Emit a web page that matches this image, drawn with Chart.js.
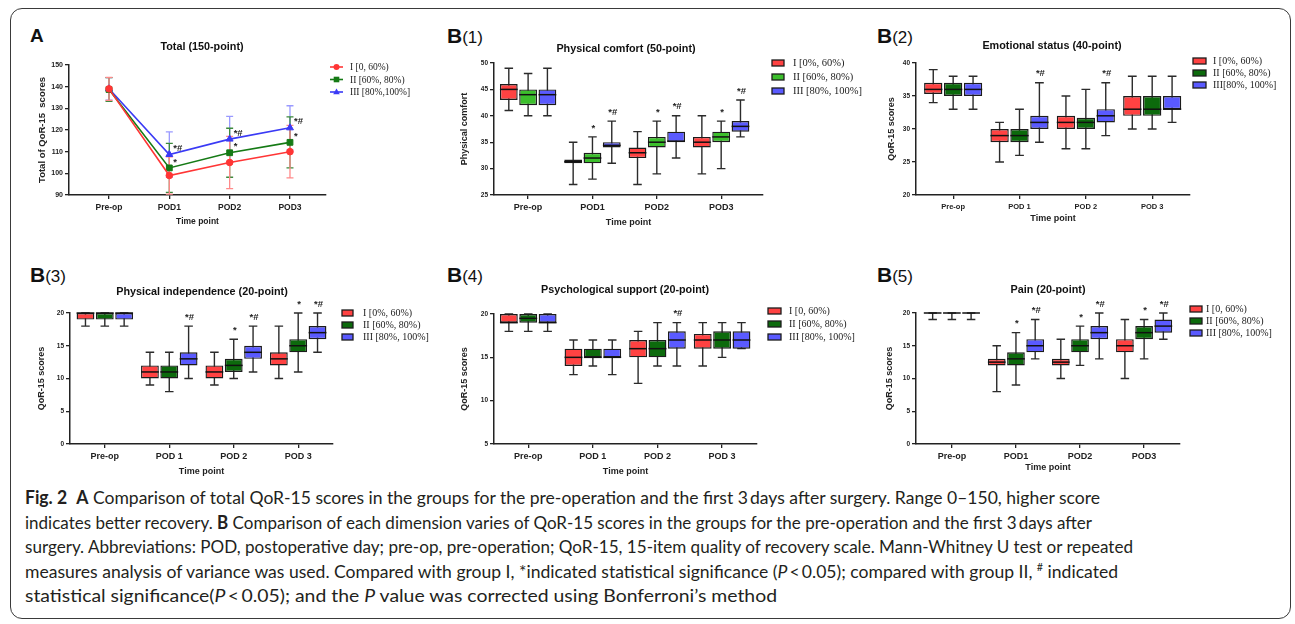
<!DOCTYPE html>
<html><head><meta charset="utf-8">
<script src="https://cdn.jsdelivr.net/npm/chart.js"></script>
<style>
html,body{margin:0;padding:0;background:#fff;}
body{width:1295px;height:624px;overflow:hidden;position:relative;}
#frame{position:absolute;left:10px;top:8px;width:1281px;height:611px;border:1px solid #3a3a3a;border-radius:12px;box-sizing:border-box;}
canvas{position:absolute;}
.plabel{position:absolute;font-family:"Liberation Sans",Arial,sans-serif;color:#111;line-height:1;font-size:21px;white-space:nowrap;}
.plabel b{font-weight:bold;}
.plabel span{font-size:17px;}
#caption{position:absolute;left:25px;top:485px;font-family:Lato,"Open Sans",sans-serif;font-size:18px;color:#231f20;}
.cl{white-space:nowrap;height:24.5px;line-height:24.5px;}
.cl span.in{display:inline-block;transform-origin:0 50%;}
sup{font-size:11px;vertical-align:7px;line-height:0;}
</style></head>
<body>
<div id="frame"></div>
<div class="plabel" style="left:30px;top:26px;font-size:19px"><b>A</b></div>
<div class="plabel" style="left:447px;top:25px"><b>B</b><span>(1)</span></div>
<div class="plabel" style="left:877px;top:25px"><b>B</b><span>(2)</span></div>
<div class="plabel" style="left:30px;top:264px"><b>B</b><span>(3)</span></div>
<div class="plabel" style="left:447px;top:264px"><b>B</b><span>(4)</span></div>
<div class="plabel" style="left:877px;top:264px"><b>B</b><span>(5)</span></div>

<canvas id="cA" width="425" height="225" style="left:12px;top:20px"></canvas>
<canvas id="cB1" width="425" height="225" style="left:440px;top:20px"></canvas>
<canvas id="cB2" width="420" height="225" style="left:866px;top:20px"></canvas>
<canvas id="cB3" width="425" height="220" style="left:12px;top:262px"></canvas>
<canvas id="cB4" width="425" height="220" style="left:440px;top:262px"></canvas>
<canvas id="cB5" width="420" height="220" style="left:866px;top:262px"></canvas>

<div id="caption">
<div class="cl"><span class="in"><b>Fig. 2</b>&nbsp; <b>A</b> Comparison of total QoR-15 scores in the groups for the pre-operation and the first 3&#8201;days after surgery. Range 0–150, higher score</span></div>
<div class="cl"><span class="in">indicates better recovery. <b>B</b> Comparison of each dimension varies of QoR-15 scores in the groups for the pre-operation and the first 3&#8201;days after</span></div>
<div class="cl"><span class="in">surgery. Abbreviations: POD, postoperative day; pre-op, pre-operation; QoR-15, 15-item quality of recovery scale. Mann-Whitney U test or repeated</span></div>
<div class="cl"><span class="in">measures analysis of variance was used. Compared with group I, *indicated statistical significance (<i>P</i>&#8201;&lt;&#8201;0.05); compared with group II, <sup>#</sup> indicated</span></div>
<div class="cl"><span class="in">statistical significance(<i>P</i>&#8201;&lt;&#8201;0.05); and the <i>P</i> value was corrected using Bonferroni’s method</span></div>
</div>

<script>
// ================= DATA =================
const timeLabels = ['Pre-op', 'POD1', 'POD2', 'POD3'];
const timeLabelsSpaced = ['Pre-op', 'POD 1', 'POD 2', 'POD 3'];

// Panel A: total QoR-15 (mean, SD)
const totalMeanI = [139, 99, 105, 110];
const totalSdI = [5.3, 8.6, 12.1, 12.1];
const totalMeanII = [138.7, 102.5, 109.5, 114.3];
const totalSdII = [5.5, 11.3, 11.3, 11.8];
const totalMeanIII = [139, 108.7, 115.8, 121];
const totalSdIII = [5.2, 10.4, 10.5, 10.2];
const totalSigII = ['', '*', '*', '*'];
const totalSigIII = ['', '*#', '*#', '*#'];
const legendA = ['I [0, 60%)', 'II [60%, 80%)', 'III [80%,100%]'];

// Box plots: [min, q1, median, q3, max] for each time point
const comfortI = [[41,43,45,46,49],[27,31,31.3,31.7,35],[27,32,33,34,37],[29,34,35,36,40]];
const comfortII = [[40,42,44,45,48],[28,31,32,33,36],[29,34,35,36,39],[30,35,36,37,39]];
const comfortIII = [[40,42,44,45,49],[31,34,34.4,35,39],[32,35,35.2,37,40],[36,37,38,39,43]];
const comfortSig = [['','',''],['','*','*#'],['','*','*#'],['','*','*#']];
const legendB1 = ['I [0%, 60%)', 'II [60%, 80%)', 'III [80%, 100%]'];

const emotionI = [[34,35.3,36,37,39],[25,28,29,30,31],[27,30,31,32,35],[30,32,33,35,38]];
const emotionII = [[33,35,36,37,38],[26,28,29,30,33],[27,30,31,31.7,36],[30,32,33,35,38]];
const emotionIII = [[33,35,36,37,38],[28,30,31,32,37],[29,31,32,33,37],[31,33,33,35,38]];
const emotionSig = [['','',''],['','','*#'],['','','*#'],['','','']];
const legendB2 = ['I [0%, 60%)', 'II [60%, 80%)', 'III[80%, 100%]'];

const independI = [[18,19,20,20,20],[9,10,11,12,14],[9,10,11,12,14],[10,12,13,14,18]];
const independII = [[18,19,20,20,20],[8,10,11,12,14],[10,11,12,13,16],[11,14,15,16,20]];
const independIII = [[18,19,20,20,20],[10,12,13,14,18],[11,13,14,15,18],[14,16,17,18,20]];
const independSig = [['','',''],['','','*#'],['','*','*#'],['','*','*#']];
const legendB3 = ['I [0%, 60%)', 'II [60%, 80%)', 'III [80%, 100%]'];

const supportI = [[18,19,19,20,20],[13,14,15,16,17],[12,15,16,17,18],[14,16,17,17.7,19]];
const supportII = [[18,19,19.5,20,20],[14,15,15,16,17],[14,15,16,17,19],[15,16,17,18,19]];
const supportIII = [[18,19,19,20,20],[13,15,15,16,17],[14,16,17,18,19],[16,16,17,18,19]];
const supportSig = [['','',''],['','',''],['','','*#'],['','','']];
const legendB4 = ['I [0, 60%)', 'II [60%, 80%)', 'III [80%, 100%]'];

const painI = [[19,20,20,20,20],[8,12,12.5,13,15],[10,12,12.5,13,16],[10,14,15,16,19]];
const painII = [[19,20,20,20,20],[9,12,13,14,17],[12,14,15,16,18],[13,16,17,18,19]];
const painIII = [[19,20,20,20,20],[13,14,15,16,19],[13,16,17,18,20],[16,17,18,19,20]];
const painSig = [['','',''],['','*','*#'],['','*','*#'],['','*','*#']];
const legendB5 = ['I [0, 60%)', 'II [60%, 80%)', 'III [80%, 100%]'];

// ================= STYLE / LAYOUT =================
const SANS = '"Liberation Sans", Arial, sans-serif';
const SERIF = '"Liberation Serif", "Times New Roman", serif';
const INK = '#222';
Chart.defaults.font.family = SANS;
Chart.defaults.color = INK;

function layoutFor(P) {
  const lhY = P.fonts.yTitle * 1.2, lhX = P.fonts.xTitle * 1.2;
  const padLeft = P.yTitleX - P.canvas.x - lhY / 2;
  const Wy = P.area.l - P.canvas.x - padLeft;
  const padTop = P.area.t - P.canvas.y;
  const padRight = P.canvas.x + P.canvas.w - P.area.r;
  const Hx = P.xTitleY - P.area.b + lhX / 2;
  const padBottom = P.canvas.y + P.canvas.h - P.area.b - Hx;
  return {padding: {left: padLeft, top: padTop, right: padRight, bottom: padBottom}, Wy, Hx};
}

function scalesFor(P, L) {
  return {
    x: {
      type: 'linear', min: P.xRange[0], max: P.xRange[1], offset: false,
      afterBuildTicks: s => { s.ticks = P.labels.map((_, i) => ({value: i})); },
      afterFit: s => { s.height = L.Hx; },
      ticks: {callback: v => P.labels[v], font: {size: P.fonts.xTick, weight: 'bold'}, color: INK, padding: 3.5, maxRotation: 0, autoSkip: false},
      grid: {display: true, drawOnChartArea: false, drawTicks: true, tickLength: 4, color: INK, lineWidth: 1.3, offset: false},
      border: {display: true, color: INK, width: 1.5},
      title: {display: true, text: 'Time point', font: {size: P.fonts.xTitle, weight: 'bold'}, color: INK, padding: 0}
    },
    y: {
      type: 'linear', min: P.yRange[0], max: P.yRange[1], beginAtZero: false,
      afterFit: s => { s.width = L.Wy; },
      ticks: {stepSize: P.yStep, font: {size: P.fonts.yTick, weight: 'bold'}, color: INK, padding: 2},
      grid: {display: true, drawOnChartArea: false, drawTicks: true, tickLength: 4, color: INK, lineWidth: 1.3},
      border: {display: true, color: INK, width: 1.5},
      title: {display: true, text: P.yTitle, font: {size: P.fonts.yTitle, weight: 'bold'}, color: INK, padding: 0}
    }
  };
}

function drawTitle(ctx, P) {
  ctx.save();
  ctx.font = 'bold ' + P.fonts.title + 'px ' + SANS;
  ctx.fillStyle = '#111'; ctx.textAlign = 'center'; ctx.textBaseline = 'middle';
  ctx.fillText(P.title, P.titlePos[0] - P.canvas.x, P.titlePos[1] - P.canvas.y);
  ctx.restore();
}

// ----- box-plot panels -----
function boxPanel(id, P) {
  const L = layoutFor(P);
  const datasets = P.groups.map((g, gi) => ({
    label: P.legend[gi],
    data: g.map((d, i) => ({x: i, y: [d[1], d[3]]})),
    backgroundColor: P.colors[gi],
    borderColor: '#1c1c1c', borderWidth: 1.4, borderSkipped: false,
    barPercentage: 0.92, categoryPercentage: 0.9
  }));
  const decor = {
    id: 'boxDecor',
    beforeDatasetsDraw(chart) {
      const ctx = chart.ctx, ys = chart.scales.y;
      ctx.save();
      ctx.strokeStyle = '#2b2b2b'; ctx.lineWidth = 1.4;
      P.groups.forEach((g, gi) => {
        chart.getDatasetMeta(gi).data.forEach((el, i) => {
          const s = g[i], x = el.x, c = el.width * 0.24;
          const y0 = ys.getPixelForValue(s[0]), y4 = ys.getPixelForValue(s[4]);
          ctx.beginPath();
          ctx.moveTo(x, y0); ctx.lineTo(x, y4);
          ctx.moveTo(x - c, y0); ctx.lineTo(x + c, y0);
          ctx.moveTo(x - c, y4); ctx.lineTo(x + c, y4);
          ctx.stroke();
        });
      });
      ctx.restore();
    },
    afterDatasetsDraw(chart) {
      const ctx = chart.ctx, ys = chart.scales.y;
      ctx.save();
      // medians
      ctx.strokeStyle = '#111'; ctx.lineWidth = 1.5;
      P.groups.forEach((g, gi) => {
        chart.getDatasetMeta(gi).data.forEach((el, i) => {
          const y = ys.getPixelForValue(g[i][2]);
          ctx.beginPath(); ctx.moveTo(el.x - el.width / 2, y); ctx.lineTo(el.x + el.width / 2, y); ctx.stroke();
        });
      });
      // significance marks
      ctx.fillStyle = '#222'; ctx.font = 'bold 9.5px ' + SANS; ctx.textAlign = 'center'; ctx.textBaseline = 'middle';
      P.groups.forEach((g, gi) => {
        chart.getDatasetMeta(gi).data.forEach((el, i) => {
          const t = P.sig[i][gi];
          if (t) ctx.fillText(t, el.x + 1, ys.getPixelForValue(g[i][4]) - 9);
        });
      });
      // legend
      const lg = P.legendBox;
      ctx.font = P.fonts.legend + 'px ' + SERIF; ctx.textAlign = 'left';
      P.legend.forEach((txt, gi) => {
        const cy = lg.rows[gi] - P.canvas.y, lx = lg.x - P.canvas.x;
        ctx.fillStyle = P.colors[gi];
        ctx.fillRect(lx, cy - lg.h / 2, lg.w, lg.h);
        ctx.strokeStyle = '#1c1c1c'; ctx.lineWidth = 1.3;
        ctx.strokeRect(lx, cy - lg.h / 2, lg.w, lg.h);
        ctx.fillStyle = '#222';
        ctx.fillText(txt, lg.tx - P.canvas.x, cy + 0.5);
      });
      ctx.restore();
      drawTitle(ctx, P);
    }
  };
  new Chart(document.getElementById(id), {
    type: 'bar',
    data: {datasets},
    options: {
      responsive: false, animation: false, devicePixelRatio: 1, events: [],
      layout: {padding: L.padding},
      plugins: {legend: {display: false}, tooltip: {enabled: false}, title: {display: false}},
      scales: scalesFor(P, L)
    },
    plugins: [decor]
  });
}

// ----- panel A (line + error bars) -----
function linePanel(id, P) {
  const L = layoutFor(P);
  const datasets = P.means.map((m, gi) => ({
    label: P.legend[gi],
    data: m.map((v, i) => ({x: i, y: v})),
    borderColor: P.colors[gi], backgroundColor: P.colors[gi],
    borderWidth: 1.6, tension: 0, fill: false,
    pointStyle: P.markers[gi], pointRadius: P.markerR[gi], pointBorderWidth: 1
  }));
  const decor = {
    id: 'lineDecor',
    beforeDatasetsDraw(chart) {
      const ctx = chart.ctx, ys = chart.scales.y;
      ctx.save(); ctx.lineWidth = 1.3;
      for (let gi = P.means.length - 1; gi >= 0; gi--) {
        ctx.strokeStyle = P.errColors[gi];
        chart.getDatasetMeta(gi).data.forEach((pt, i) => {
          const m = P.means[gi][i], sd = P.sds[gi][i];
          const yl = ys.getPixelForValue(m - sd), yh = ys.getPixelForValue(m + sd), x = pt.x;
          ctx.beginPath();
          ctx.moveTo(x, yl); ctx.lineTo(x, yh);
          ctx.moveTo(x - 3.5, yl); ctx.lineTo(x + 3.5, yl);
          ctx.moveTo(x - 3.5, yh); ctx.lineTo(x + 3.5, yh);
          ctx.stroke();
        });
      }
      ctx.restore();
    },
    afterDatasetsDraw(chart) {
      const ctx = chart.ctx;
      ctx.save();
      ctx.fillStyle = '#222'; ctx.font = 'bold 9.5px ' + SANS; ctx.textAlign = 'left'; ctx.textBaseline = 'middle';
      P.sigs.forEach((sg, gi) => {
        if (!sg) return;
        chart.getDatasetMeta(gi).data.forEach((pt, i) => {
          if (sg[i]) ctx.fillText(sg[i], pt.x + 4, pt.y - 6);
        });
      });
      // legend: line + marker + text
      const lg = P.legendBox;
      P.legend.forEach((txt, gi) => {
        const cy = lg.rows[gi] - P.canvas.y, x0 = lg.x0 - P.canvas.x, x1 = lg.x1 - P.canvas.x, cx = (x0 + x1) / 2;
        ctx.strokeStyle = P.colors[gi]; ctx.fillStyle = P.colors[gi]; ctx.lineWidth = 1.6;
        ctx.beginPath(); ctx.moveTo(x0, cy); ctx.lineTo(x1, cy); ctx.stroke();
        ctx.beginPath();
        if (P.markers[gi] === 'circle') { ctx.arc(cx, cy, 3, 0, Math.PI * 2); }
        else if (P.markers[gi] === 'rect') { ctx.rect(cx - 2.8, cy - 2.8, 5.6, 5.6); }
        else { ctx.moveTo(cx, cy - 3.5); ctx.lineTo(cx + 3.3, cy + 2.3); ctx.lineTo(cx - 3.3, cy + 2.3); ctx.closePath(); }
        ctx.fill();
        ctx.fillStyle = '#222'; ctx.font = P.fonts.legend + 'px ' + SERIF;
        ctx.fillText(txt, lg.tx - P.canvas.x, cy + 0.5);
      });
      ctx.restore();
      drawTitle(ctx, P);
    }
  };
  new Chart(document.getElementById(id), {
    type: 'line',
    data: {datasets},
    options: {
      responsive: false, animation: false, devicePixelRatio: 1, events: [],
      layout: {padding: L.padding},
      plugins: {legend: {display: false}, tooltip: {enabled: false}, title: {display: false}},
      scales: scalesFor(P, L)
    },
    plugins: [decor]
  });
}

// ================= PANELS =================
linePanel('cA', {
  canvas: {x: 12, y: 20, w: 425, h: 225}, area: {l: 69, t: 65, r: 326, b: 195},
  xRange: [-0.663, 3.597], yRange: [90, 150], yStep: 10,
  labels: timeLabels, yTitle: 'Total of QoR-15  scores', yTitleX: 42, xTitleY: 222,
  title: 'Total (150-point)', titlePos: [202, 47],
  fonts: {xTick: 8.5, yTick: 7, xTitle: 8.5, yTitle: 9.5, title: 10.8, legend: 9.5},
  means: [totalMeanI, totalMeanII, totalMeanIII], sds: [totalSdI, totalSdII, totalSdIII],
  sigs: [null, totalSigII, totalSigIII], legend: legendA,
  colors: ['#ff3535', '#157a15', '#3a3af5'], errColors: ['#ff8a8a', '#3d8a3d', '#9a9aff'],
  markers: ['circle', 'rect', 'triangle'], markerR: [3.3, 4.1, 4],
  legendBox: {x0: 330, x1: 343, tx: 350, rows: [67, 79.5, 92]}
});

boxPanel('cB1', {
  canvas: {x: 440, y: 20, w: 425, h: 225}, area: {l: 494, t: 63, r: 763, b: 195},
  xRange: [-0.53, 3.65], yRange: [25, 50], yStep: 5,
  labels: timeLabels, yTitle: 'Physical comfort', yTitleX: 465, xTitleY: 223,
  title: 'Physical comfort (50-point)', titlePos: [626, 49],
  fonts: {xTick: 9, yTick: 6.5, xTitle: 9, yTitle: 9, title: 10.8, legend: 10.5},
  groups: [comfortI, comfortII, comfortIII], sig: comfortSig, legend: legendB1,
  colors: ['#ff4242', '#3cbf2c', '#5a5aff'],
  legendBox: {x: 772, w: 12, h: 6, tx: 793, rows: [63, 77, 91]}
});

boxPanel('cB2', {
  canvas: {x: 866, y: 20, w: 420, h: 225}, area: {l: 916, t: 63, r: 1190, b: 195},
  xRange: [-0.56, 3.57], yRange: [20, 40], yStep: 5,
  labels: timeLabelsSpaced, yTitle: 'QoR-15 scores', yTitleX: 892, xTitleY: 219,
  title: 'Emotional status (40-point)', titlePos: [1052, 46],
  fonts: {xTick: 7.5, yTick: 6.5, xTitle: 9, yTitle: 9, title: 10.8, legend: 10},
  groups: [emotionI, emotionII, emotionIII], sig: emotionSig, legend: legendB2,
  colors: ['#ff4242', '#0c6a0c', '#5a5aff'],
  legendBox: {x: 1193, w: 13, h: 6, tx: 1213, rows: [61, 73, 85]}
});

boxPanel('cB3', {
  canvas: {x: 12, y: 262, w: 425, h: 220}, area: {l: 70, t: 313, r: 333, b: 444},
  xRange: [-0.54, 3.54], yRange: [0, 20], yStep: 5,
  labels: timeLabelsSpaced, yTitle: 'QoR-15 scores', yTitleX: 42, xTitleY: 472,
  title: 'Physical independence (20-point)', titlePos: [202, 292],
  fonts: {xTick: 9, yTick: 6.5, xTitle: 9, yTitle: 9, title: 10.8, legend: 10},
  groups: [independI, independII, independIII], sig: independSig, legend: legendB3,
  colors: ['#ff4242', '#0c6a0c', '#5a5aff'],
  legendBox: {x: 342, w: 11, h: 6, tx: 363, rows: [313, 325, 337]}
});

boxPanel('cB4', {
  canvas: {x: 440, y: 262, w: 425, h: 220}, area: {l: 494, t: 314, r: 757, b: 444},
  xRange: [-0.53, 3.54], yRange: [5, 20], yStep: 5,
  labels: timeLabelsSpaced, yTitle: 'QoR-15 scores', yTitleX: 465, xTitleY: 472,
  title: 'Psychological support (20-point)', titlePos: [625, 290],
  fonts: {xTick: 9, yTick: 6.5, xTitle: 9, yTitle: 9, title: 10.8, legend: 10},
  groups: [supportI, supportII, supportIII], sig: supportSig, legend: legendB4,
  colors: ['#ff4242', '#0c6a0c', '#5a5aff'],
  legendBox: {x: 768, w: 13, h: 6, tx: 789, rows: [311, 324, 337]}
});

boxPanel('cB5', {
  canvas: {x: 866, y: 262, w: 420, h: 220}, area: {l: 916, t: 313, r: 1180, b: 444},
  xRange: [-0.56, 3.56], yRange: [0, 20], yStep: 5,
  labels: timeLabels, yTitle: 'QoR-15 scores', yTitleX: 890, xTitleY: 468,
  title: 'Pain (20-point)', titlePos: [1048, 290],
  fonts: {xTick: 9, yTick: 6.5, xTitle: 9, yTitle: 9, title: 10.8, legend: 10},
  groups: [painI, painII, painIII], sig: painSig, legend: legendB5,
  colors: ['#ff4242', '#0c6a0c', '#5a5aff'],
  legendBox: {x: 1190, w: 12, h: 6, tx: 1206, rows: [309, 321, 333]}
});

// caption line fitting
const captionWidths = [1075, 1067, 1108, 1093, 752];
function fitCaption() {
  document.querySelectorAll('#caption .in').forEach((el, i) => {
    el.style.transform = 'none';
    const w = el.getBoundingClientRect().width;
    if (w > 0) el.style.transform = 'scaleX(' + (captionWidths[i] / w) + ')';
  });
}
fitCaption();
if (document.fonts && document.fonts.ready) document.fonts.ready.then(fitCaption);
</script>
</body></html>
